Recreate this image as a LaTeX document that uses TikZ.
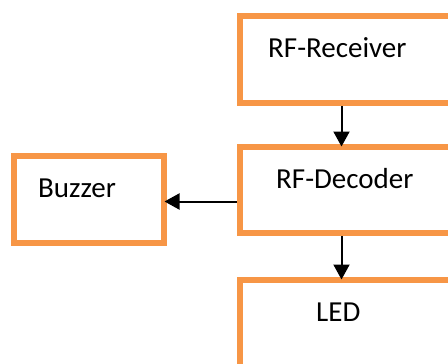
\documentclass[tikz,border=0pt]{standalone}
\usepackage{fontspec}
\setmainfont{Carlito}
\usetikzlibrary{arrows.meta}

\begin{document}
\begin{tikzpicture}[
  x=1pt, y=-1pt,
  block/.style={rectangle, draw=boxorange, line width=6pt, fill=white},
  lbl/.style={anchor=base west, inner sep=0pt, font=\fontsize{29}{34}\selectfont},
  arr/.style={draw, line width=2pt, shorten >=-2.5pt, -{Triangle[width=16pt,length=15pt]}}
]
\definecolor{boxorange}{HTML}{F79646}
\useasboundingbox (0,0) rectangle (448,364);
\clip (0,0) rectangle (448,364);
% blocks
\node [block, minimum width=230.5pt, minimum height=87.5pt] (rx) at (354.75,59.25) {};
\node [block, minimum width=230.5pt, minimum height=86pt] (dec) at (354.75,190) {};
\node [block, minimum width=230.5pt, minimum height=100pt] (led) at (354.75,330) {};
\node [block, minimum width=150pt, minimum height=87pt] (buz) at (89,199.5) {};
% texts
\node [lbl] (rxtext) at (268,57) {RF-Receiver};
\node [lbl] (dectext) at (276,188) {RF-Decoder};
\node [lbl] (buztext) at (38,197) {Buzzer};
\node [lbl] (ledtext) at (316,321) {LED};
% arrows
\draw [arr] (341.5,0 |- rx.south) -- (341.5,0 |- dec.north);
\draw [arr] (341.5,0 |- dec.south) -- (341.5,0 |- led.north);
\draw [arr] (dec.west |- 0,201.5) -- (buz.east |- 0,201.5);
\end{tikzpicture}
\end{document}
